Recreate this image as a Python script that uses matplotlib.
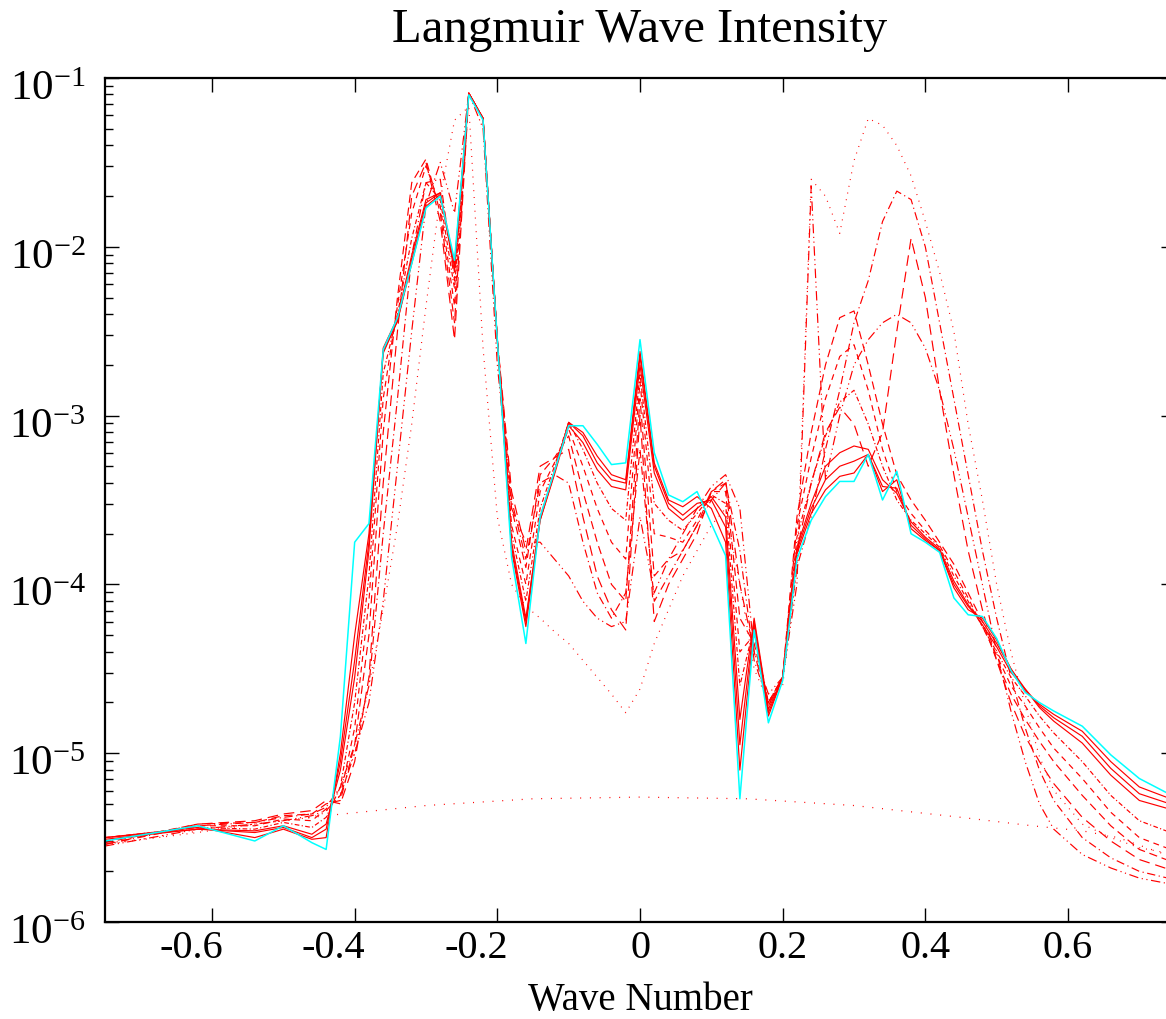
import matplotlib
matplotlib.use("Agg")
import matplotlib.pyplot as plt
import matplotlib.transforms as mtransforms
import numpy as np

plt.rcParams["font.family"] = ["Liberation Serif", "DejaVu Serif"]
plt.rcParams["mathtext.fontset"] = "custom"
plt.rcParams["mathtext.rm"] = "Liberation Serif"
plt.rcParams["mathtext.it"] = "Liberation Serif:italic"

# wave number grid shared by the time snapshots
k = [-0.75, -0.62, -0.54, -0.50, -0.46,
     -0.44, -0.42, -0.40, -0.38, -0.36, -0.34, -0.32, -0.30, -0.28, -0.26, -0.24, -0.22,
     -0.20, -0.18, -0.16, -0.14, -0.12, -0.10, -0.08, -0.06, -0.04, -0.02, 0.00,
     0.02, 0.04, 0.06, 0.08, 0.10, 0.12, 0.14, 0.16, 0.18, 0.20,
     0.22, 0.24, 0.26, 0.28, 0.30, 0.32, 0.34, 0.36, 0.38, 0.40,
     0.42, 0.44, 0.46, 0.48, 0.50, 0.52, 0.54, 0.56, 0.58,
     0.62, 0.66, 0.70, 0.75]

# thermal level (initial), own grid
k_thermal = [-0.75, -0.60, -0.44, -0.30, -0.15, 0.00, 0.15, 0.30, 0.45, 0.55, 0.62, 0.67, 0.75]
log_thermal = [-5.54, -5.45, -5.37, -5.31, -5.27, -5.26, -5.27, -5.31, -5.38, -5.43, -5.46, -5.50, -5.62]

# log10 intensity of each snapshot on grid k
log_dot = [-5.54, -5.47, -5.42, -5.40, -5.38,
           -5.35, -5.20, -5.00, -4.60, -4.15, -3.65, -3.05, -2.35, -1.70, -1.25, -1.17, -2.60,
           -3.60, -4.00, -4.13, -4.20, -4.28, -4.35, -4.45, -4.55, -4.65, -4.76, -4.62,
           -4.35, -4.15, -3.95, -3.80, -3.65, -3.55, -4.00, -4.50, -4.70, -4.60,
           -3.90, -1.60, -1.70, -1.92, -1.49, -1.24, -1.28, -1.40, -1.58, -1.85,
           -2.15, -2.50, -3.05, -3.50, -4.00, -4.40, -4.72, -5.02, -5.22,
           -5.42, -5.50, -5.56, -5.60]

log_dashdotdot = [-5.55, -5.45, -5.42, -5.40, -5.37,
                  -5.34, -5.25, -5.00, -4.70, -4.10, -3.30, -2.50, -1.75, -1.50, -1.80, -1.09, -1.30,
                  -2.70, -3.55, -3.75, -3.75, -3.85, -3.95, -4.10, -4.20, -4.25, -4.22, -3.60,
                  -4.05, -3.85, -3.70, -3.55, -3.42, -3.35, -3.55, -4.40, -4.65, -4.55,
                  -4.00, -1.64, -3.38, -3.00, -2.70, -2.55, -2.45, -2.40, -2.45, -2.60,
                  -2.85, -3.20, -3.60, -4.00, -4.40, -4.75, -5.05, -5.30, -5.45,
                  -5.60, -5.68, -5.74, -5.78]

log_dashdot = [-5.54, -5.43, -5.41, -5.38, -5.36,
               -5.32, -5.20, -4.95, -4.60, -3.70, -2.90, -2.05, -1.62, -1.60, -2.20, -1.09, -1.24,
               -2.55, -3.50, -3.85, -3.40, -3.35, -3.40, -3.75, -4.05, -4.20, -4.05, -3.20,
               -4.10, -3.95, -3.80, -3.65, -3.50, -3.40, -3.80, -4.45, -4.70, -4.55,
               -3.90, -3.60, -3.20, -2.85, -2.45, -2.20, -1.85, -1.67, -1.72, -2.00,
               -2.45, -2.90, -3.35, -3.80, -4.20, -4.55, -4.85, -5.10, -5.28,
               -5.50, -5.62, -5.70, -5.75]

log_longdash = [-5.54, -5.42, -5.40, -5.36, -5.34,
                -5.28, -5.30, -5.05, -4.55, -3.40, -2.50, -1.70, -1.50, -1.85, -2.55, -1.09, -1.24,
                -2.55, -3.45, -3.80, -3.30, -3.25, -3.20, -3.60, -3.95, -4.15, -4.27, -3.00,
                -4.22, -4.00, -3.85, -3.70, -3.45, -3.38, -4.00, -4.40, -4.72, -4.55,
                -3.80, -3.40, -3.10, -2.95, -3.05, -3.30, -3.10, -2.50, -1.95, -2.30,
                -2.85, -3.35, -3.80, -4.15, -4.45, -4.70, -4.90, -5.05, -5.18,
                -5.38, -5.52, -5.63, -5.70]

log_dash1 = [-5.53, -5.42, -5.41, -5.37, -5.36,
             -5.30, -5.28, -4.95, -4.30, -3.10, -2.30, -1.62, -1.48, -1.80, -2.45, -1.09, -1.24,
             -2.55, -3.55, -3.90, -3.35, -3.25, -3.12, -3.45, -3.75, -4.00, -4.10, -2.90,
             -3.95, -3.85, -3.80, -3.65, -3.45, -3.40, -4.20, -4.35, -4.70, -4.55,
             -3.60, -3.10, -2.70, -2.42, -2.38, -2.70, -3.05, -3.35, -3.50, -3.62,
             -3.75, -3.88, -4.05, -4.22, -4.45, -4.65, -4.80, -4.93, -5.05,
             -5.25, -5.43, -5.57, -5.65]

log_dash2 = [-5.52, -5.43, -5.43, -5.39, -5.40,
             -5.33, -5.25, -4.85, -4.10, -2.90, -2.35, -1.80, -1.52, -1.76, -2.35, -1.09, -1.24,
             -2.55, -3.65, -4.00, -3.45, -3.28, -3.08, -3.30, -3.55, -3.75, -3.85, -2.80,
             -3.70, -3.72, -3.75, -3.62, -3.45, -3.45, -4.40, -4.30, -4.70, -4.55,
             -3.65, -3.25, -2.90, -2.65, -2.58, -2.85, -3.20, -3.45, -3.58, -3.68,
             -3.77, -3.92, -4.08, -4.25, -4.42, -4.60, -4.72, -4.85, -4.97,
             -5.15, -5.35, -5.50, -5.58]

log_dash3 = [-5.50, -5.44, -5.45, -5.41, -5.44,
             -5.38, -5.20, -4.70, -3.95, -2.75, -2.40, -1.95, -1.62, -1.72, -2.25, -1.09, -1.24,
             -2.55, -3.70, -4.10, -3.55, -3.30, -3.04, -3.20, -3.40, -3.55, -3.62, -2.75,
             -3.52, -3.62, -3.68, -3.58, -3.47, -3.52, -4.60, -4.25, -4.72, -4.55,
             -3.72, -3.40, -3.12, -2.92, -2.85, -3.05, -3.30, -3.50, -3.62, -3.70,
             -3.78, -3.95, -4.10, -4.25, -4.40, -4.55, -4.66, -4.78, -4.88,
             -5.05, -5.25, -5.40, -5.48]

log_solid1 = [-5.51, -5.45, -5.46, -5.43, -5.48,
              -5.42, -5.10, -4.55, -3.80, -2.60, -2.42, -2.05, -1.72, -1.68, -2.15, -1.09, -1.24,
              -2.55, -3.75, -4.20, -3.62, -3.35, -3.06, -3.16, -3.32, -3.42, -3.44, -2.70,
              -3.34, -3.55, -3.62, -3.55, -3.48, -3.60, -4.80, -4.20, -4.74, -4.55,
              -3.78, -3.52, -3.30, -3.22, -3.18, -3.20, -3.38, -3.46, -3.63, -3.72,
              -3.79, -3.98, -4.12, -4.24, -4.37, -4.52, -4.62, -4.73, -4.81,
              -4.94, -5.13, -5.28, -5.34]

log_solid2 = [-5.50, -5.45, -5.47, -5.44, -5.50,
              -5.45, -5.05, -4.45, -3.75, -2.62, -2.44, -2.08, -1.74, -1.68, -2.12, -1.09, -1.24,
              -2.55, -3.78, -4.22, -3.60, -3.33, -3.04, -3.12, -3.28, -3.38, -3.40, -2.65,
              -3.30, -3.52, -3.59, -3.52, -3.50, -3.66, -4.95, -4.22, -4.76, -4.55,
              -3.80, -3.55, -3.38, -3.30, -3.27, -3.23, -3.42, -3.43, -3.65, -3.73,
              -3.80, -4.00, -4.13, -4.22, -4.35, -4.50, -4.62, -4.72, -4.79,
              -4.90, -5.09, -5.24, -5.31]

log_solid3 = [-5.50, -5.44, -5.50, -5.45, -5.51,
              -5.50, -5.00, -4.30, -3.70, -2.63, -2.44, -2.10, -1.76, -1.69, -2.10, -1.09, -1.24,
              -2.55, -3.80, -4.25, -3.62, -3.34, -3.04, -3.10, -3.24, -3.35, -3.38, -2.62,
              -3.28, -3.50, -3.54, -3.48, -3.55, -3.75, -5.10, -4.25, -4.78, -4.55,
              -3.82, -3.58, -3.44, -3.36, -3.34, -3.23, -3.45, -3.38, -3.67, -3.74,
              -3.80, -4.02, -4.15, -4.20, -4.33, -4.50, -4.63, -4.71, -4.77,
              -4.87, -5.05, -5.20, -5.28]

log_final = [-5.52, -5.43, -5.52, -5.43, -5.53,
             -5.57, -4.90, -3.75, -3.64, -2.61, -2.42, -2.10, -1.77, -1.70, -2.08, -1.10, -1.25,
             -2.55, -3.84, -4.35, -3.60, -3.33, -3.06, -3.06, -3.17, -3.29, -3.28, -2.55,
             -3.22, -3.47, -3.51, -3.45, -3.64, -3.83, -5.27, -4.27, -4.82, -4.57,
             -3.85, -3.62, -3.48, -3.39, -3.39, -3.23, -3.50, -3.33, -3.70, -3.75,
             -3.81, -4.08, -4.18, -4.19, -4.32, -4.51, -4.64, -4.70, -4.75,
             -4.84, -5.01, -5.15, -5.26]

xticks = [-0.6, -0.4, -0.2, 0, 0.2, 0.4, 0.6]
xtick_labels = ["-0.6", "-0.4", "-0.2", "0", "0.2", "0.4", "0.6"]
ytick_exps = [-6, -5, -4, -3, -2, -1]

RED = "#ff0000"
CYAN = "#00ffff"

W, H = 1166, 1019
fig = plt.figure(figsize=(W / 100, H / 100), dpi=100)
# right spine sits just past the picture edge, like the original
ax = fig.add_axes([105 / W, (H - 922) / H, (1175 - 105) / W, (922 - 78) / H])

ax.plot(k_thermal, 10 ** np.array(log_thermal), color=RED, lw=0.9, ls=(0, (0.8, 7)))

series = [
    (log_dot, (0, (0.8, 5))),
    (log_dashdotdot, (0, (8, 3, 1, 3, 1, 3))),
    (log_dashdot, (0, (7, 3, 1, 3))),
    (log_longdash, (0, (9, 5))),
    (log_dash1, (0, (7, 4))),
    (log_dash2, (0, (5, 4))),
    (log_dash3, (0, (4, 2, 1, 2))),
    (log_solid1, "-"),
    (log_solid2, "-"),
    (log_solid3, "-"),
]
for vals, ls in series:
    ax.plot(k, 10 ** np.array(vals), color=RED, lw=0.85, ls=ls)
ax.plot(k, 10 ** np.array(log_final), color=CYAN, lw=1.1)

ax.set_yscale("log")
ax.set_xlim(-0.75, 0.75)
ax.set_ylim(1e-6, 1e-1)

for s in ax.spines.values():
    s.set_linewidth(1.6)

ax.set_xticks(xticks)
ax.set_xticklabels([])
ax.set_yticks([10.0 ** e for e in ytick_exps])
ax.set_yticklabels([r"$10^{%d}$" % e for e in ytick_exps], fontsize=31)
ax.tick_params(which="both", direction="in", top=True, right=True)
ax.tick_params(which="major", length=10, width=1.0, pad=14)
ax.tick_params(which="minor", length=6, width=1.0)
ax.tick_params(axis="x", which="minor", bottom=False, top=False)

# put the "10" of each y label on its tick, superscript above
shift = mtransforms.ScaledTranslation(0, -0.22, fig.dpi_scale_trans)
for lab in ax.get_yticklabels():
    lab.set_va("baseline")
    lab.set_transform(lab.get_transform() + shift)

# x tick labels drawn as text (negative ones sit a little left of the tick)
xtr = mtransforms.blended_transform_factory(ax.transData, ax.transAxes)
for v, s in zip(xticks, xtick_labels):
    dx = -0.21 if v < 0 else 0.0
    off = mtransforms.ScaledTranslation(dx, -0.08, fig.dpi_scale_trans)
    ax.text(v, 0, s, transform=xtr + off, ha="center", va="top", fontsize=29)

fig.text(640 / W, 0.0, "Wave Number", ha="center", va="bottom", fontsize=28)
fig.text(640 / W, 1 - 30 / H, "Langmuir Wave Intensity", ha="center", va="center", fontsize=35)

fig.savefig("out.png", dpi=100)
